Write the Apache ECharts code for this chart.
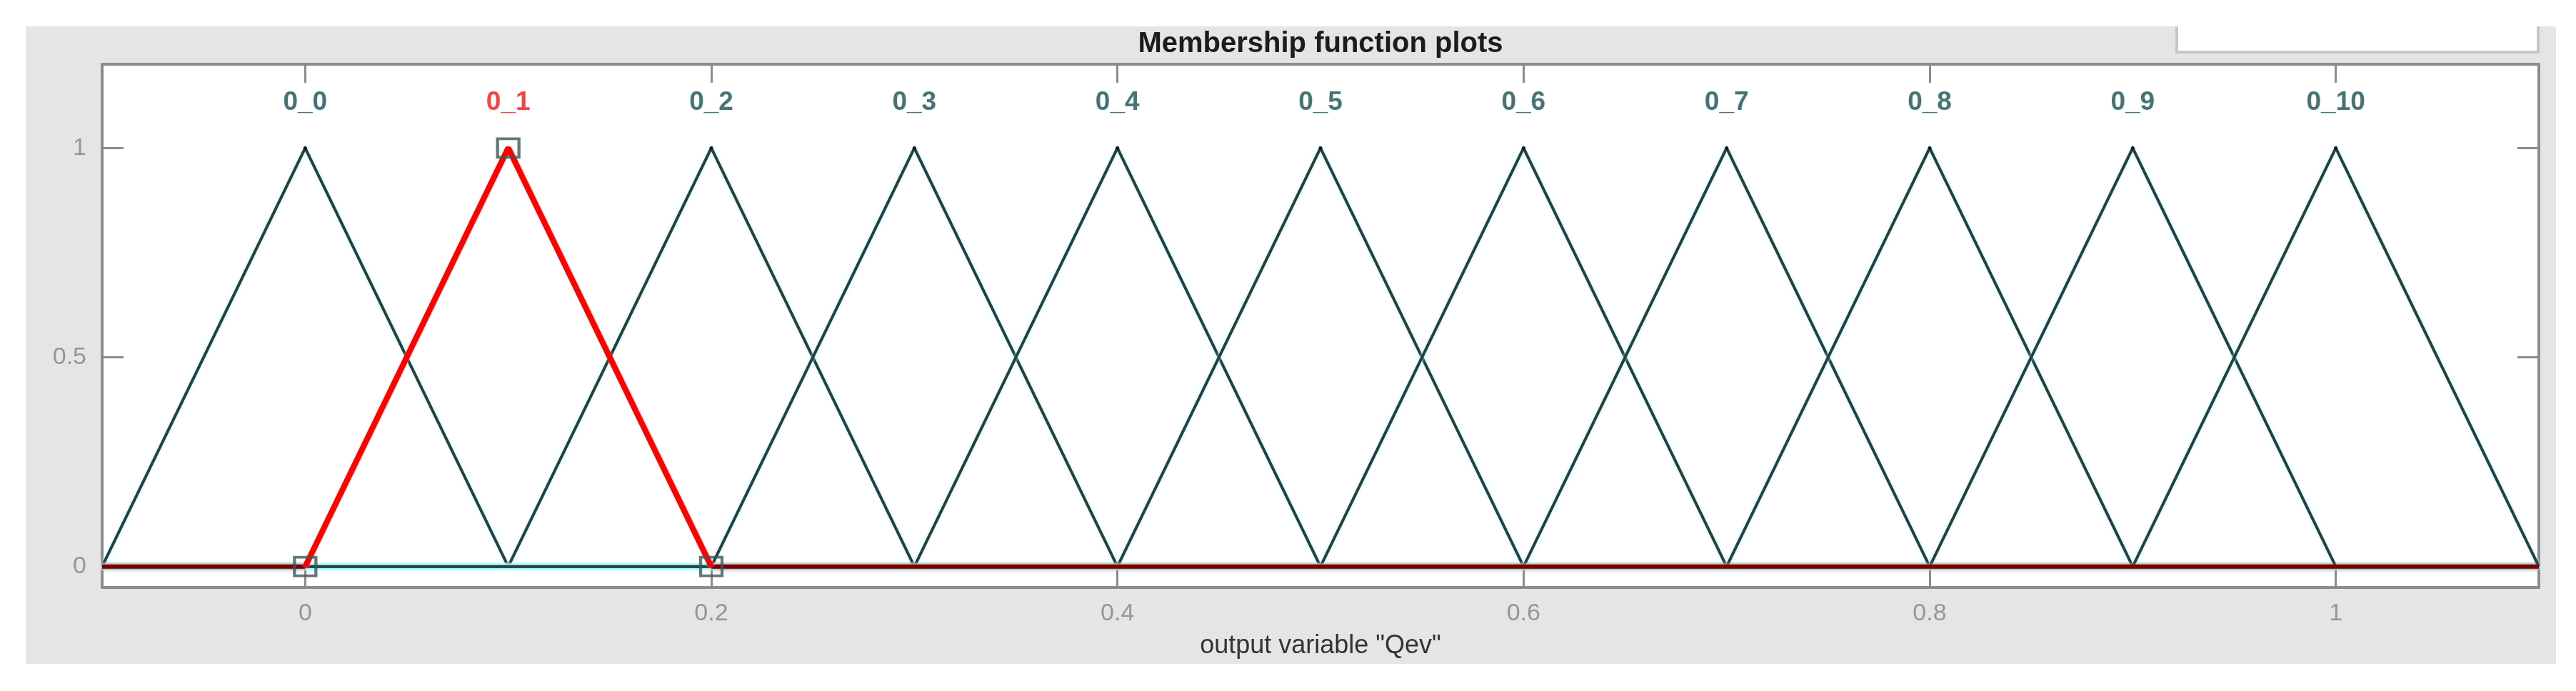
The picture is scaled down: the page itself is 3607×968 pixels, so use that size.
<!DOCTYPE html>
<html>
<head>
<meta charset="utf-8">
<title>Membership function plots</title>
<script src="https://cdn.jsdelivr.net/npm/echarts@6/dist/echarts.min.js"></script>
<style>
  html, body { margin: 0; padding: 0; background: #fff; }
  #panel { position: absolute; left: 36px; top: 37px; width: 3543px; height: 893px; background: #e5e5e5; }
  #box { position: absolute; left: 3046px; top: 37px; width: 502px; height: 34px; background: #fff;
         border: 4px solid #c6c6ca; border-top: none; }
  #chart { position: absolute; left: 0; top: 0; width: 3607px; height: 968px; }
</style>
</head>
<body>
<div id="panel"></div>
<div id="box"></div>
<div id="chart"></div>
<script>
// axis ranges and ticks, as in the MATLAB plot
const xRange = [-0.1, 1.1];
const yRange = [-0.05, 1.2];
const xTicks = [0, 0.2, 0.4, 0.6, 0.8, 1];
const yTicks = [0, 0.5, 1];

// triangular membership functions: [left foot, peak, right foot]
const mfNames = ['0_0', '0_1', '0_2', '0_3', '0_4', '0_5', '0_6', '0_7', '0_8', '0_9', '0_10'];
const mfParams = [
  [-0.1, 0, 0.1],
  [0, 0.1, 0.2],
  [0.1, 0.2, 0.3],
  [0.2, 0.3, 0.4],
  [0.3, 0.4, 0.5],
  [0.4, 0.5, 0.6],
  [0.5, 0.6, 0.7],
  [0.6, 0.7, 0.8],
  [0.7, 0.8, 0.9],
  [0.8, 0.9, 1],
  [0.9, 1, 1.1],
];
const selectedMf = 1;

const LINE_COLOR = '#283f3f';
const LABEL_COLOR = '#264f4f';
const AXIS_COLOR = '#8c8c8c';
const TICK_TEXT = '#969696';
const HALO = 'rgba(170, 255, 255, 0.9)';

function mfLine(params) {
  const [a, b, c] = params;
  return [[xRange[0], 0], [a, 0], [b, 1], [c, 0], [xRange[1], 0]];
}

function buildSeries() {
  const series = mfParams.map((params, idx) => ({
    type: 'line',
    name: mfNames[idx],
    data: mfLine(params),
    symbol: 'none',
    showSymbol: false,
    silent: true,
    z: 2,
    lineStyle: {
      color: LINE_COLOR,
      width: 4,
      shadowColor: HALO,
      shadowBlur: 4,
    },
  }));

  // peaks get the small black vertex dots and carry the names
  series.push({
    type: 'scatter',
    symbol: 'circle',
    symbolSize: 5,
    silent: true,
    z: 3,
    itemStyle: { color: '#000' },
    data: mfParams.map((params, idx) => ({
      value: [params[1], 1],
      label: {
        show: true,
        position: 'top',
        distance: 42,
        formatter: mfNames[idx],
        color: idx === selectedMf ? '#ff1414' : LABEL_COLOR,
        fontSize: 37,
        fontWeight: 'bold',
        textShadowColor: 'rgba(190, 255, 255, 0.7)',
        textShadowBlur: 3,
      },
    })),
  });

  // the selected function drawn on top: red triangle, dark red flat parts
  const [a, b, c] = mfParams[selectedMf];
  const flatStyle = {
    color: '#7a0000',
    width: 6,
    shadowColor: 'rgba(200, 90, 90, 0.9)',
    shadowBlur: 5,
  };
  series.push({
    type: 'line',
    data: [[xRange[0], 0], [a, 0]],
    symbol: 'none',
    silent: true,
    z: 4,
    lineStyle: flatStyle,
  });
  series.push({
    type: 'line',
    data: [[c, 0], [xRange[1], 0]],
    symbol: 'none',
    silent: true,
    z: 4,
    lineStyle: flatStyle,
  });
  series.push({
    type: 'line',
    data: [[a, 0], [b, 1], [c, 0]],
    symbol: 'none',
    silent: true,
    z: 5,
    lineStyle: { color: '#ff0000', width: 8, shadowColor: 'rgba(255, 180, 180, 0.8)', shadowBlur: 3 },
  });
  series.push({
    type: 'scatter',
    data: [[a, 0], [b, 1], [c, 0]],
    symbol: 'rect',
    symbolSize: [30, 26],
    silent: true,
    z: 6,
    itemStyle: { color: 'rgba(0,0,0,0)', borderColor: '#3a5858', borderWidth: 4 },
  });
  return series;
}

function xAxisOpt(position, withLabels) {
  return {
    type: 'value',
    gridIndex: 0,
    position,
    min: xRange[0],
    max: xRange[1],
    splitLine: { show: false },
    axisLine: { show: true, onZero: false, lineStyle: { color: AXIS_COLOR, width: 4 } },
    axisTick: {
      show: true,
      inside: true,
      length: 26,
      customValues: xTicks,
      lineStyle: { color: AXIS_COLOR, width: 3 },
    },
    axisLabel: {
      show: withLabels,
      customValues: xTicks,
      color: TICK_TEXT,
      fontSize: 34,
      margin: 20,
    },
    name: withLabels ? 'output variable "Qev"' : '',
    nameLocation: 'middle',
    nameGap: 64,
    nameTextStyle: { color: '#333', fontSize: 36 },
  };
}

function yAxisOpt(position, withLabels) {
  return {
    type: 'value',
    gridIndex: 0,
    position,
    min: yRange[0],
    max: yRange[1],
    splitLine: { show: false },
    axisLine: { show: true, onZero: false, lineStyle: { color: AXIS_COLOR, width: 4 } },
    axisTick: {
      show: true,
      inside: true,
      length: 30,
      customValues: yTicks,
      lineStyle: { color: AXIS_COLOR, width: 3 },
    },
    axisLabel: {
      show: withLabels,
      customValues: yTicks,
      color: TICK_TEXT,
      fontSize: 34,
      margin: 22,
    },
  };
}

const chart = echarts.init(document.getElementById('chart'), null, { renderer: 'canvas' });
chart.setOption({
  animation: false,
  backgroundColor: 'transparent',
  textStyle: { fontFamily: 'Liberation Sans' },
  title: {
    text: 'Membership function plots',
    left: 1849,
    top: 42,
    textAlign: 'center',
    padding: 0,
    textStyle: { fontSize: 40, fontWeight: 'bold', color: '#1c1c1c' },
  },
  grid: {
    left: 143,
    top: 90,
    width: 3412,
    height: 733,
    containLabel: false,
    outerBoundsMode: 'none',
    show: true,
    backgroundColor: '#fff',
    borderWidth: 0,
  },
  xAxis: [xAxisOpt('bottom', true), xAxisOpt('top', false)],
  yAxis: [yAxisOpt('left', true), yAxisOpt('right', false)],
  series: buildSeries(),
});
</script>
</body>
</html>
